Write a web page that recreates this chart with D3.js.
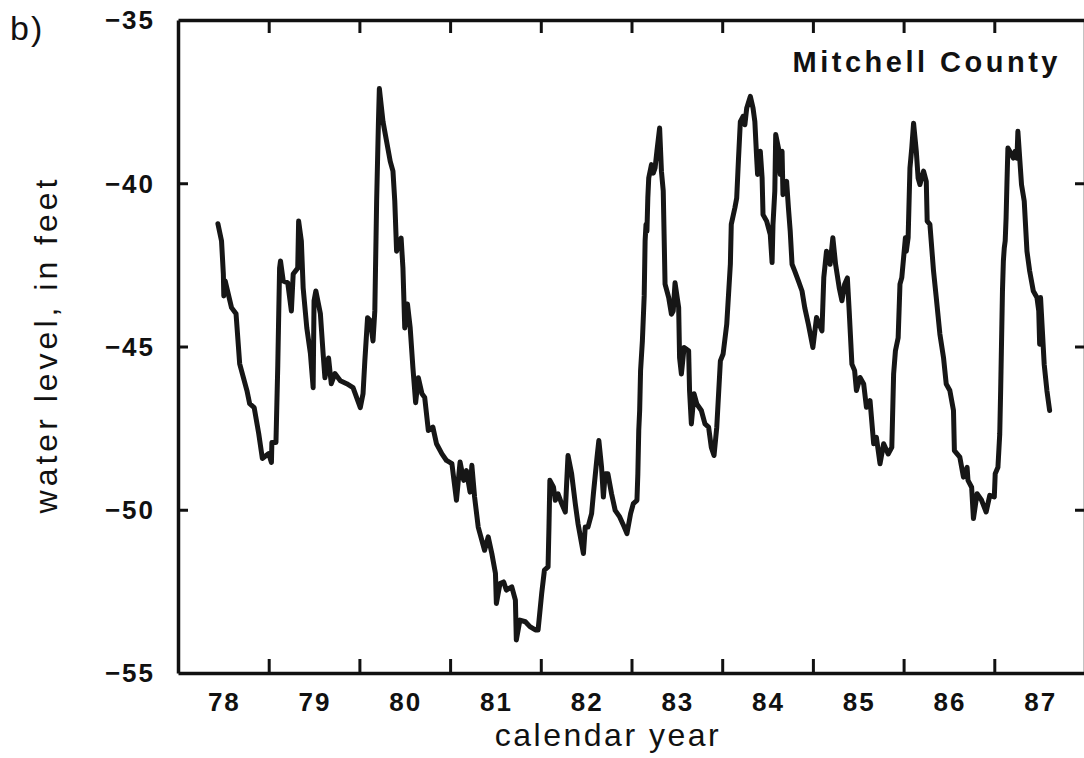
<!DOCTYPE html>
<html>
<head>
<meta charset="utf-8">
<script src="https://cdn.jsdelivr.net/npm/d3@7"></script>
<style>
  body { margin: 0; background: #fff; }
  text { font-family: "Liberation Sans", Arial, sans-serif; fill: #111; }
</style>
</head>
<body>
<div id="chart"></div>
<script>
var margin = {
    top: 20,
    bottom: 85,
    left: 178,
    right: -1
  },
  width = 1084 - margin.left - margin.right,
  height = 758 - margin.top - margin.bottom;

// well hydrograph, water level below land surface (ft), decimal calendar year
var years = [
  78.44, 78.48, 78.50, 78.505, 78.52, 78.59, 78.64, 78.68, 78.76, 78.79, 78.84, 78.89, 78.93, 79.00, 79.03, 79.035, 79.08, 79.10, 79.12, 79.13,
  79.16, 79.21, 79.25, 79.27, 79.32, 79.33, 79.36, 79.38, 79.42, 79.46, 79.49, 79.50, 79.52, 79.57, 79.60, 79.62, 79.66, 79.69, 79.73, 79.79,
  79.86, 79.93, 80.01, 80.04, 80.06, 80.09, 80.12, 80.15, 80.17, 80.19, 80.21, 80.22, 80.26, 80.34, 80.37, 80.39, 80.41, 80.46, 80.48, 80.50,
  80.53, 80.56, 80.59, 80.62, 80.65, 80.69, 80.72, 80.76, 80.81, 80.85,
  80.91, 80.96, 81.02, 81.07, 81.11, 81.15, 81.18, 81.22, 81.24, 81.27, 81.31, 81.38, 81.42, 81.46, 81.50, 81.51, 81.55, 81.59, 81.62, 81.68,
  81.72, 81.73, 81.77, 81.83, 81.88, 81.94, 81.97, 82.01, 82.04, 82.08, 82.09, 82.10, 82.14, 82.16, 82.19, 82.23, 82.27, 82.29, 82.30, 82.34,
  82.38, 82.41, 82.47, 82.49, 82.52, 82.56, 82.58, 82.62, 82.64, 82.67, 82.69, 82.71, 82.74, 82.78, 82.82, 82.87, 82.92, 82.95, 82.99, 83.02,
  83.06,
  83.07, 83.08, 83.09, 83.10, 83.12, 83.14, 83.15, 83.16, 83.17, 83.18, 83.19, 83.22, 83.24, 83.26, 83.28, 83.31, 83.33, 83.35, 83.37, 83.41,
  83.44, 83.46, 83.48, 83.52, 83.53, 83.55, 83.58, 83.63, 83.64, 83.66, 83.69, 83.72, 83.77, 83.81, 83.85, 83.88, 83.91, 83.94, 83.98, 84.01,
  84.05, 84.09, 84.10, 84.14, 84.16, 84.18, 84.20, 84.23, 84.25, 84.27, 84.31, 84.34, 84.36, 84.38, 84.39, 84.42, 84.44, 84.45, 84.49, 84.53,
  84.55, 84.56, 84.58, 84.59, 84.62, 84.64, 84.66, 84.67, 84.71, 84.73, 84.75, 84.77, 84.80, 84.84, 84.88, 84.91, 84.95, 85.00, 85.04, 85.07,
  85.10, 85.12, 85.15, 85.19, 85.22, 85.25, 85.29, 85.32,
  85.35, 85.38, 85.40, 85.43, 85.46, 85.48, 85.52, 85.56, 85.59, 85.63, 85.67, 85.70, 85.74, 85.78, 85.83, 85.87, 85.89, 85.91, 85.94, 85.96,
  85.98, 86.00, 86.02, 86.03, 86.05, 86.07, 86.09, 86.11, 86.14, 86.16, 86.18, 86.22, 86.25, 86.26, 86.29, 86.33, 86.36, 86.40, 86.44, 86.47,
  86.51, 86.55, 86.56, 86.62, 86.66, 86.70, 86.71, 86.75, 86.77, 86.81, 86.86, 86.91, 86.95, 87.00, 87.01, 87.04, 87.06, 87.07, 87.08, 87.09,
  87.10, 87.11, 87.12, 87.13, 87.14, 87.15, 87.19, 87.21, 87.23, 87.25, 87.26, 87.28, 87.30, 87.33, 87.34, 87.36, 87.39, 87.43, 87.47, 87.49,
  87.50, 87.51, 87.53, 87.55, 87.58, 87.61
]

var levels = [
  -41.24, -41.77, -42.78, -43.45, -42.99, -43.81, -44.00, -45.53, -46.35, -46.75, -46.87, -47.67, -48.43, -48.28, -48.55, -47.94, -47.94, -45.59, -42.60, -42.38,
  -42.99, -43.05, -43.91, -42.78, -42.60, -41.16, -41.77, -43.21, -44.43, -45.22, -46.26, -43.60, -43.30, -44.00, -45.22, -45.96, -45.35, -46.14, -45.83, -46.05,
  -46.14, -46.26, -46.87, -46.45, -45.44, -44.12, -44.21, -44.83, -43.91, -40.55, -38.11, -37.10, -38.11, -39.33, -39.63, -40.55, -42.08, -41.68, -42.60, -44.43,
  -43.70, -44.43, -45.65, -46.72, -45.96, -46.45, -46.56, -47.57, -47.47, -47.98,
  -48.29, -48.49, -48.59, -49.71, -48.54, -49.10, -48.80, -49.46, -48.64, -49.61, -50.53, -51.24, -50.83, -51.34, -51.95, -52.87, -52.26, -52.21, -52.46, -52.36,
  -52.77, -53.99, -53.38, -53.43, -53.58, -53.68, -53.68, -52.56, -51.85, -51.75, -50.53, -49.10, -49.31, -49.71, -49.51, -49.81, -50.07, -48.90, -48.34, -48.90,
  -49.81, -50.42, -51.34, -50.53, -50.53, -50.12, -49.51, -48.39, -47.88, -48.70, -49.61, -48.90, -48.90, -49.51, -50.02, -50.22, -50.53, -50.73, -50.12, -49.81,
  -49.71,
  -48.90, -47.57, -46.96, -45.74, -44.83, -43.45, -41.77, -41.26, -41.47, -40.45, -39.84, -39.43, -39.69, -39.53, -39.02, -38.31, -39.63, -40.24, -43.09, -43.50,
  -44.01, -43.91, -43.05, -43.81, -45.34, -45.84, -45.03, -45.13, -46.35, -47.37, -46.45, -46.76, -46.96, -47.37, -47.47, -48.09, -48.34, -47.47, -45.44, -45.23,
  -44.32, -42.48, -41.26, -40.75, -40.45, -39.23, -38.11, -37.95, -38.21, -37.70, -37.34, -37.70, -38.11, -39.23, -39.73, -39.02, -39.84, -40.96, -41.16, -41.57,
  -42.43, -41.26, -40.24, -38.51, -38.92, -39.73, -39.02, -40.35, -39.94, -40.75, -41.47, -42.48, -42.69, -42.99, -43.30, -43.81, -44.32, -45.03, -44.11, -44.32,
  -44.52, -42.89, -42.08, -42.48, -41.67, -42.48, -43.20, -43.60,
  -43.09, -42.90, -43.91, -45.54, -45.74, -46.35, -45.95, -46.15, -46.86, -46.66, -47.98, -47.78, -48.59, -47.98, -48.29, -48.09, -45.84, -45.13, -44.73, -43.09,
  -42.89, -42.28, -41.67, -42.08, -41.67, -39.53, -38.92, -38.16, -39.02, -39.84, -40.04, -39.63, -39.94, -41.16, -41.26, -42.69, -43.50, -44.62, -45.34, -46.15,
  -46.35, -46.96, -48.19, -48.39, -49.00, -48.70, -49.10, -49.31, -50.27, -49.51, -49.71, -50.07, -49.56, -49.61, -48.90, -48.70, -47.68, -46.35, -44.83, -43.30,
  -42.38, -41.98, -41.77, -41.06, -39.94, -38.92, -39.12, -39.23, -39.02, -39.23, -38.41, -39.23, -40.04, -40.55, -41.06, -42.08, -42.69, -43.30, -43.50, -43.91,
  -44.93, -43.50, -44.52, -45.54, -46.35, -46.96
]

var yearLabels = ["78", "79", "80", "81", "82", "83", "84", "85", "86", "87"]
var yearTicks = [79, 80, 81, 82, 83, 84, 85, 86, 87]
var levelLabels = [-35, -40, -45, -50, -55]
var levelTicks = [-40, -45, -50]

var svg = d3
  .select("#chart")
  .append("svg")
  .attr("width", 1084)
  .attr("height", 758)
  .append("g")
  .attr("transform", "translate(" + margin.left + "," + margin.top + ")");

var x = d3.scaleLinear()
          .domain([78, 88])
          .range([0, width])

var y = d3.scaleLinear()
          .domain([-55, -35])
          .range([height, 0])

// frame + inward ticks on all four sides
var styleAxis = function(g) {
  g.select(".domain").attr("stroke", "#111").attr("stroke-width", 3.5)
  g.selectAll(".tick line").attr("stroke", "#111").attr("stroke-width", 3)
}

svg.append("g")
   .attr("transform", "translate(0," + height + ")")
   .call(d3.axisBottom(x).tickValues(yearTicks).tickSize(-14).tickSizeOuter(0).tickFormat(""))
   .call(styleAxis)

svg.append("g")
   .call(d3.axisTop(x).tickValues(yearTicks).tickSize(-13).tickSizeOuter(0).tickFormat(""))
   .call(styleAxis)

svg.append("g")
   .call(d3.axisLeft(y).tickValues(levelTicks).tickSize(-10).tickSizeOuter(0).tickFormat(""))
   .call(styleAxis)

svg.append("g")
   .attr("transform", "translate(" + width + ",0)")
   .call(d3.axisRight(y).tickValues(levelTicks).tickSize(-10).tickSizeOuter(0).tickFormat(""))
   .call(styleAxis)

// tick labels
svg.selectAll("ylab")
   .data(levelLabels)
   .enter()
   .append("text")
   .attr("x", -23)
   .attr("y", function(d) { return y(d) })
   .attr("dy", "0.36em")
   .attr("text-anchor", "end")
   .style("font-size", "26px")
   .style("font-weight", "bold")
   .style("letter-spacing", "2px")
   .text(function(d) { return String(d).replace("-", "\u2212") })

svg.selectAll("xlab")
   .data(yearLabels)
   .enter()
   .append("text")
   .attr("x", function(d) { return x(+d + 0.5) + 1 })
   .attr("y", height + 38)
   .attr("text-anchor", "middle")
   .style("font-size", "26px")
   .style("font-weight", "bold")
   .style("letter-spacing", "2px")
   .text(function(d) { return d })

// the hydrograph
var line = d3.line()
             .x(function(d) { return x(d[0]) })
             .y(function(d) { return y(d[1]) })

svg.append("path")
   .datum(d3.zip(years, levels))
   .attr("d", line)
   .attr("fill", "none")
   .attr("stroke", "#161616")
   .attr("stroke-width", 5)
   .attr("stroke-linejoin", "round")
   .attr("stroke-linecap", "round")

// titles
svg.append("text")
   .attr("x", 608 - margin.left)
   .attr("y", height + 73)
   .attr("text-anchor", "middle")
   .style("font-size", "32px")
   .style("letter-spacing", "2.5px")
   .text("calendar year")

svg.append("text")
   .attr("transform", "translate(" + (57 - margin.left) + "," + (y(-45) - 2) + ") rotate(-90)")
   .attr("text-anchor", "middle")
   .style("font-size", "32px")
   .style("letter-spacing", "4px")
   .text("water level, in feet")

svg.append("text")
   .attr("x", width - 24)
   .attr("y", 52)
   .attr("text-anchor", "end")
   .style("font-size", "29px")
   .style("font-weight", "bold")
   .style("letter-spacing", "3.5px")
   .text("Mitchell County")

svg.append("text")
   .attr("x", 10 - margin.left)
   .attr("y", 20)
   .style("font-size", "34px")
   .style("letter-spacing", "2px")
   .text("b)")
</script>
</body>
</html>
